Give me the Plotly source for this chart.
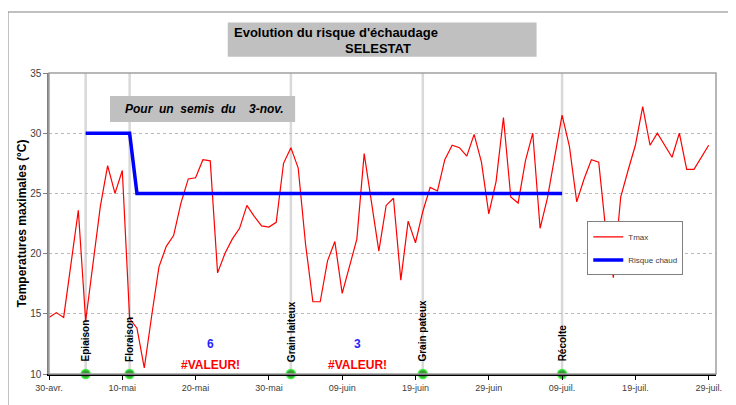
import pandas as pd
import plotly.graph_objects as go

# daily Tmax values, from 30 April to 29 July
start_date = "2023-04-30"
tmax = [14.7, 15.1, 14.7, 19.1, 23.6, 14.4, 19.2, 23.9, 27.3, 25.0,
        26.9, 14.6, 13.8, 10.5, 14.8, 18.9, 20.6, 21.5, 24.2, 26.2,
        26.3, 27.8, 27.7, 18.4, 20.0, 21.2, 22.1, 24.0, 23.1, 22.3,
        22.2, 22.6, 27.5, 28.8, 27.1, 20.8, 16.0, 16.0, 19.4, 21.0,
        16.7, 18.9, 21.2, 28.3, 24.2, 20.2, 24.0, 24.6, 17.8, 22.7,
        20.9, 23.5, 25.5, 25.2, 27.8, 29.0, 28.8, 28.1, 29.9, 27.6,
        23.3, 26.0, 31.3, 24.7, 24.2, 27.7, 30.0, 22.1, 24.6, 28.1,
        31.5, 28.9, 24.3, 26.2, 27.8, 27.6, 21.7, 18.0, 24.7, 26.9,
        29.0, 32.2, 29.0, 30.0, 29.0, 28.0, 30.0, 27.0, 27.0, 28.0,
        29.0]
dates = pd.date_range(start_date, periods=len(tmax), freq="D")

# heat risk threshold
risk_dates = ["2023-05-05", "2023-05-11", "2023-05-12", "2023-07-09"]
risk_values = [30, 30, 25, 25]

# crop stages
stage_names = ["Epiaison", "Floraison", "Grain laiteux", "Grain pateux", "Récolte"]
stage_dates = ["2023-05-05", "2023-05-11", "2023-06-02", "2023-06-20", "2023-07-09"]

# x ticks every 10 days
tick_dates = pd.date_range(start_date, periods=10, freq="10D")
tick_labels = ["30-avr.", "10-mai", "20-mai", "30-mai", "09-juin",
               "19-juin", "29-juin", "09-juil.", "19-juil.", "29-juil."]

# counts shown under the chart
counts = ["6", "3"]
count_x = [0.242, 0.462]

FONT = "Liberation Sans, Arial, sans-serif"

fig = go.Figure()

fig.add_trace(go.Scatter(x=dates, y=tmax, name="Tmax", mode="lines",
                         line=dict(color="#ff0000", width=1.2),
                         legendgroup="a"))
fig.add_trace(go.Scatter(x=risk_dates, y=risk_values, name="Risque chaud",
                         mode="lines", line=dict(color="#0000ff", width=3.5),
                         legendgroup="b"))
fig.add_trace(go.Scatter(x=stage_dates, y=[10] * len(stage_dates), mode="markers",
                         marker=dict(color="#3a9a3a", size=9,
                                     line=dict(color="#40f040", width=1.5)),
                         showlegend=False, cliponaxis=False, hoverinfo="skip"))

# stage vertical lines and labels
for name, d in zip(stage_names, stage_dates):
    fig.add_shape(type="line", x0=d, x1=d, y0=10, y1=35, xref="x", yref="y",
                  line=dict(color="#d9d9d9", width=2.5), layer="below")
    fig.add_annotation(x=d, y=10.85, xref="x", yref="y", text="<b>" + name + "</b>",
                       textangle=-90, showarrow=False, xanchor="center",
                       yanchor="bottom", font=dict(family=FONT, size=10, color="black"))

for c, cx in zip(counts, count_x):
    fig.add_annotation(x=cx, y=0.1, xref="paper", yref="paper", text="<b>" + c + "</b>",
                       showarrow=False, xanchor="center", yanchor="middle",
                       font=dict(family=FONT, size=12, color="#1f1fff"))
    fig.add_annotation(x=cx, y=0.03, xref="paper", yref="paper", text="<b>#VALEUR!</b>",
                       showarrow=False, xanchor="center", yanchor="middle",
                       font=dict(family=FONT, size=12, color="#ff0000"))

# outer chart frame
fig.add_shape(type="rect", xref="paper", yref="paper", x0=-0.0615, x1=1.1,
              y0=-0.2, y1=1.2027, line=dict(color="#808080", width=1), layer="below")
# plot area border
fig.add_shape(type="rect", xref="paper", yref="paper", x0=0, x1=1, y0=0, y1=1,
              line=dict(color="#a0a0a0", width=1.5))

# title box
fig.add_shape(type="rect", xref="paper", yref="paper", x0=0.268, x1=0.731,
              y0=1.054, y1=1.168, fillcolor="#c0c0c0", line=dict(width=0))
fig.add_annotation(x=0.274, y=1.135, xref="paper", yref="paper", xanchor="left",
                   yanchor="middle", text="<b>Evolution du risque d'échaudage</b>",
                   showarrow=False, font=dict(family=FONT, size=13, color="black"))
fig.add_annotation(x=0.494, y=1.080, xref="paper", yref="paper", xanchor="center",
                   yanchor="middle", text="<b>SELESTAT</b>", showarrow=False,
                   font=dict(family=FONT, size=13, color="black"))

# sowing date box
fig.add_shape(type="rect", xref="paper", yref="paper", x0=0.0915, x1=0.369,
              y0=0.837, y1=0.924, fillcolor="#c0c0c0", line=dict(width=0))
fig.add_annotation(x=0.111, y=0.879, xref="paper", yref="paper", xanchor="left",
                   yanchor="middle", text="<b><i>Pour  un  semis  du</i></b>",
                   showarrow=False, font=dict(family=FONT, size=12, color="black"))
fig.add_annotation(x=0.297, y=0.879, xref="paper", yref="paper", xanchor="left",
                   yanchor="middle", text="<b><i>3-nov.</i></b>", showarrow=False,
                   font=dict(family=FONT, size=12, color="black"))

# y axis title
fig.add_annotation(x=-0.0405, y=0.5, xref="paper", yref="paper", textangle=-90,
                   xanchor="center", yanchor="middle",
                   text="<b>Temperatures maximales (°C)</b>", showarrow=False,
                   font=dict(family=FONT, size=12, color="black"))

# page body has an 8px margin, margins are set so the plot area lands at 49..716 x 73..374
fig.update_layout(
    width=736, height=405,
    margin=dict(l=41, r=28, t=65, b=39),
    plot_bgcolor="white", paper_bgcolor="white",
    font=dict(family=FONT, size=9, color="#404040"),
    showlegend=True,
    legend=dict(x=0.807, y=0.507, xanchor="left", yanchor="top",
                bgcolor="white", bordercolor="#808080", borderwidth=1,
                font=dict(family=FONT, size=8, color="#404040"),
                tracegroupgap=4, itemwidth=30),
)
fig.update_xaxes(type="date", range=["2023-04-30", "2023-07-30"],
                 tickvals=tick_dates, ticktext=tick_labels,
                 ticks="outside", ticklen=4, tickcolor="black",
                 showline=True, linecolor="black", linewidth=1.5,
                 showgrid=False, zeroline=False,
                 tickfont=dict(family=FONT, size=9, color="#404040"))
fig.update_yaxes(range=[10, 35], dtick=5, ticks="outside", ticklen=4,
                 tickcolor="#808080", showline=True, linecolor="#808080",
                 linewidth=1.5, showgrid=True, gridcolor="#b8b8b8",
                 griddash="dot", gridwidth=1, zeroline=False,
                 tickfont=dict(family=FONT, size=10, color="#404040"))

fig.write_html("out.html")
